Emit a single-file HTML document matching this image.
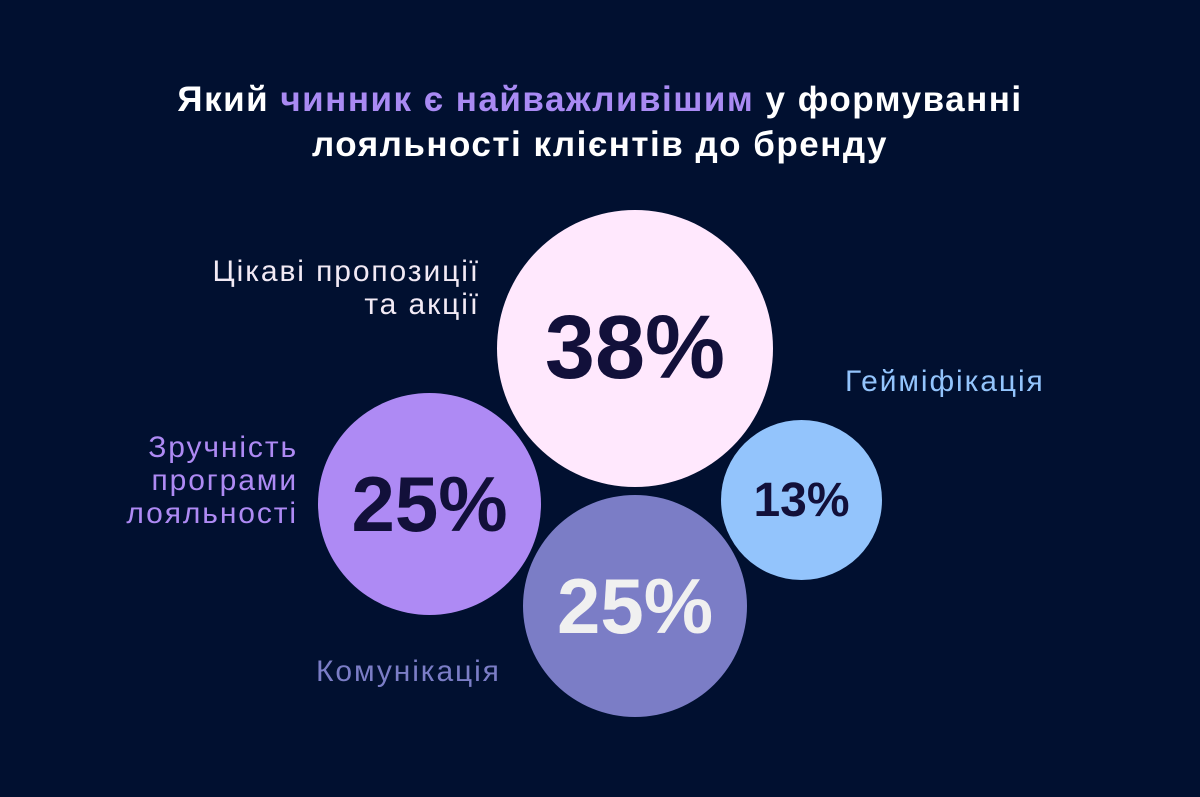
<!DOCTYPE html>
<html><head><meta charset="utf-8"><style>
html,body{margin:0;padding:0;}
body{width:1200px;height:797px;background:#011030;position:relative;overflow:hidden;font-family:"Liberation Sans",sans-serif;}
.t{position:absolute;left:0;width:1200px;text-align:center;color:#fff;font-weight:bold;font-size:35px;letter-spacing:1.5px;}
.c{position:absolute;border-radius:50%;display:flex;align-items:center;justify-content:center;font-weight:bold;}
.l{position:absolute;font-size:30px;line-height:33px;letter-spacing:1.9px;}
</style></head><body>
<div class="t" style="top:80px">Який <span style="color:#a98af3">чинник є найважливішим</span> у формуванні</div>
<div class="t" style="top:125px">лояльності клієнтів до бренду</div>

<div class="c" style="left:497px;top:210px;width:276px;height:277px;background:#ffe8fd;color:#12103a;font-size:90px;">38%</div>
<div class="c" style="left:318px;top:393px;width:223px;height:222px;background:#ae8af4;color:#12103a;font-size:78px;">25%</div>
<div class="c" style="left:522px;top:494px;width:224px;height:222px;background:#7b7dc6;color:#f0f0f0;font-size:78px;border:1px solid #011030;">25%</div>
<div class="c" style="left:721px;top:420px;width:161px;height:160px;background:#93c4fc;color:#12103a;font-size:48px;">13%</div>

<div class="l" style="right:720px;top:255px;text-align:right;color:#f2eaf5;">Цікаві пропозиції<br>та акції</div>
<div class="l" style="left:845px;top:365px;color:#93c4fc;">Гейміфікація</div>
<div class="l" style="right:902px;top:431px;text-align:right;color:#ae8af4;">Зручність<br>програми<br>лояльності</div>
<div class="l" style="left:316px;top:655px;color:#7b7dc6;">Комунікація</div>
</body></html>
